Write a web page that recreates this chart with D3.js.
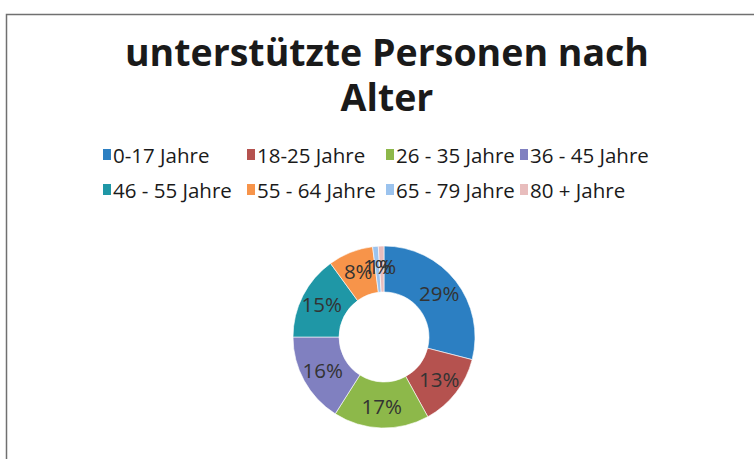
<!DOCTYPE html>
<html>
<head>
<meta charset="utf-8">
<script src="https://cdn.jsdelivr.net/npm/d3@7"></script>
<style>
  body { margin: 0; background: #fff; }
  svg { display: block; font-family: "Open Sans", Lato, sans-serif; }
</style>
</head>
<body>
<svg id="chart" width="754" height="459"></svg>
<script>
const titleLines = ["unterstützte Personen nach", "Alter"];
const categories = ["0-17 Jahre", "18-25 Jahre", "26 - 35 Jahre", "36 - 45 Jahre",
                    "46 - 55 Jahre", "55 - 64 Jahre", "65 - 79 Jahre", "80 + Jahre"];
const values = [29, 13, 17, 16, 15, 8, 1, 1];
const colors = ["#2c7fc2", "#b5524f", "#8db84a", "#8080c0",
                "#1f97a6", "#f7944a", "#9bc3ee", "#e8bdbd"];

const svg = d3.select("#chart");

// chart frame
svg.append("rect")
    .attr("x", 6.5).attr("y", 14.5)
    .attr("width", 760).attr("height", 460)
    .attr("fill", "#fff")
    .attr("stroke", "#707070")
    .attr("stroke-width", 1.5);

// title
svg.append("g").selectAll("text")
    .data(titleLines)
    .enter().append("text")
    .attr("x", 387)
    .attr("y", (d, i) => 66 + i * 45)
    .attr("text-anchor", "middle")
    .style("font-size", "37.5px")
    .style("font-weight", "bold")
    .style("fill", "#1a1a1a")
    .text(d => d);

// legend
const colX = [103, 247, 386, 520];
const legend = svg.append("g")
    .selectAll("g")
    .data(categories)
    .enter().append("g")
    .attr("transform", (d, i) => `translate(${colX[i % 4]},${155 + Math.floor(i / 4) * 35})`);

legend.append("rect")
    .attr("x", 0).attr("y", -6)
    .attr("width", 8).attr("height", 11)
    .attr("fill", (d, i) => colors[i]);

legend.append("text")
    .attr("x", 10)
    .attr("y", 7.5)
    .style("font-size", "20.5px")
    .style("fill", "#1a1a1a")
    .text(d => d);

// donut
const cx = 384, cy = 337, rOuter = 91, rInner = 45;
const pie = d3.pie().sort(null).value(d => d)(values);
const arc = d3.arc().innerRadius(rInner).outerRadius(rOuter);
const labelArc = d3.arc().innerRadius(rInner + 2).outerRadius(rOuter + 2);

const g = svg.append("g").attr("transform", `translate(${cx},${cy})`);

g.selectAll("path")
    .data(pie)
    .enter().append("path")
    .attr("d", arc)
    .attr("fill", (d, i) => colors[i])
    .attr("stroke", "#fff")
    .attr("stroke-width", 0.6);

g.selectAll("text.lbl")
    .data(pie)
    .enter().append("text")
    .attr("class", "lbl")
    .attr("transform", d => `translate(${labelArc.centroid(d)})`)
    .attr("text-anchor", "middle")
    .attr("dy", "0.35em")
    .style("font-size", "20.5px")
    .style("fill", "#333")
    .text(d => d.data + "%");
</script>
</body>
</html>
